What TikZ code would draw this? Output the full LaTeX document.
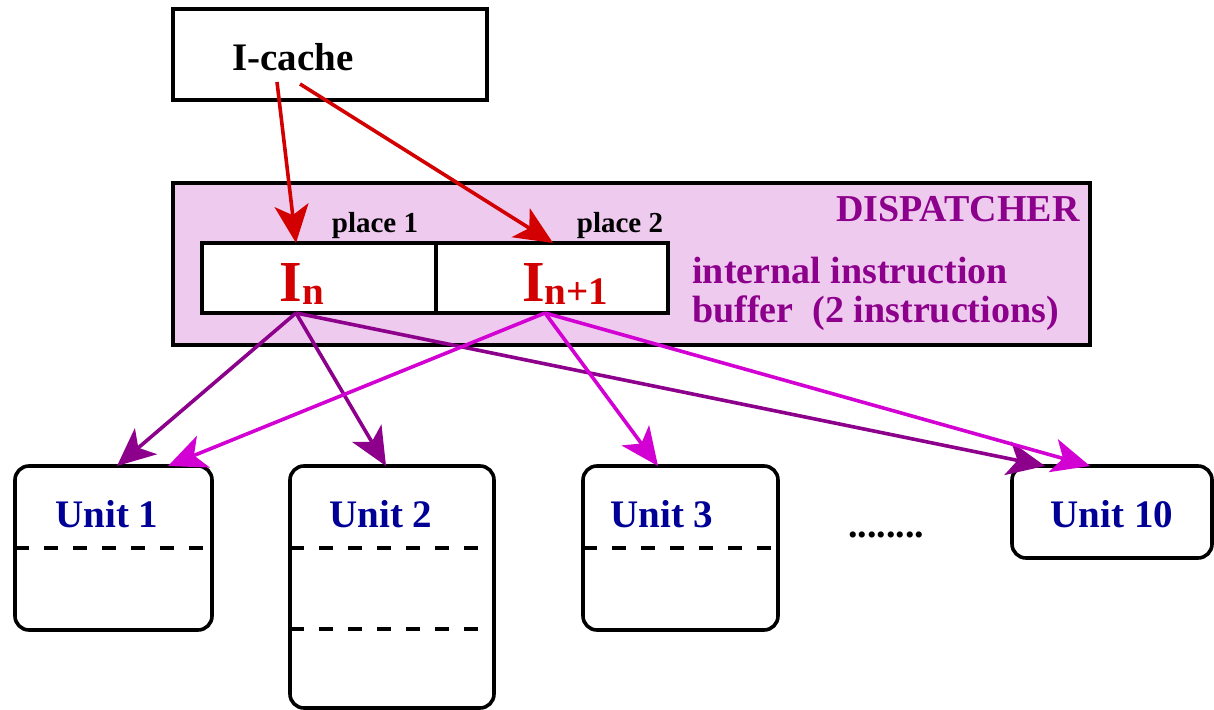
\documentclass[tikz,border=0pt]{standalone}
\usepackage{fontspec}
\setmainfont{Liberation Serif}[BoldFont={Liberation Serif Bold}]
\usetikzlibrary{arrows.meta,positioning}
\definecolor{colorFETCH}{RGB}{210,0,0}
\definecolor{colorIN}{RGB}{140,0,140}
\definecolor{colorINN}{RGB}{210,0,210}
\definecolor{colorDSP}{RGB}{238,202,238}
\definecolor{colorUNIT}{RGB}{0,0,150}
\tikzset{
   every path/.style={>={Stealth[length=19pt,width=17pt,inset=5pt]}},
   box/.style={draw,line width=1.8pt,inner sep=0pt,outer sep=0pt},
   unitbox/.style={box,rounded corners=7pt,fill=white},
   stage/.style={dash pattern=on 7pt off 7.5pt,line width=1.8pt},
   fetch/.style={->,color=colorFETCH,line width=1.8pt},
   issue/.style={->,color=colorIN,line width=1.8pt},
   issuenext/.style={->,color=colorINN,line width=1.8pt},
   unitlbl/.style={font=\rmfamily\bfseries\fontsize{19.5}{20}\selectfont,text=colorUNIT,inner sep=0pt},
   dsplbl/.style={font=\rmfamily\bfseries\fontsize{19}{20}\selectfont,text=colorIN,inner sep=0pt},
   placelbl/.style={font=\rmfamily\bfseries\fontsize{14.5}{15}\selectfont,inner sep=0pt},
   instr/.style={font=\rmfamily\bfseries\fontsize{29}{30}\selectfont,text=colorFETCH,inner sep=0pt},
}
\newcommand{\sub}[1]{{\fontsize{19.5}{20}\selectfont\raisebox{-1.5pt}{#1}}}

\begin{document}
\begin{tikzpicture}[x=0.5pt,y=-0.5pt]
        \useasboundingbox (0,0) rectangle (1214,710);

        % cache and dispatcher
        \node[box,minimum width=157pt,minimum height=45.5pt] (icache) at (330,54.5) {};
        \node[font=\rmfamily\bfseries\fontsize{19.5}{20}\selectfont,inner sep=0pt] (icachetxt) at (293,57) {I-cache};
        \node[box,fill=colorDSP,minimum width=458.5pt,minimum height=81pt] (disp) at (631.5,264) {};
        \node[dsplbl,anchor=east] (disptxt) at (1080,209) {DISPATCHER};

        % internal buffer
        \node[box,fill=white,minimum width=117pt,minimum height=35pt] (cella) at (319,278) {};
        \node[box,fill=white,minimum width=116pt,minimum height=35pt] (cellb) at (552,278) {};
        \node[placelbl,anchor=base] (placea) at (375,233) {place 1};
        \node[placelbl,anchor=base] (placeb) at (620,233) {place 2};
        \node[instr,anchor=base] (ina) at (302,302) {I\sub{n}};
        \node[instr,anchor=base] (inb) at (565,302) {I\sub{n+1}};
        \node[dsplbl,anchor=base west] (bufa) at (692,284) {internal instruction};
        \node[dsplbl,anchor=base west] (bufb) at (692,323) {buffer\ \ (2 instructions)};

        % units
        \node[unitbox,minimum width=98.5pt,minimum height=82pt] (u1) at (113.5,548) {};
        \node[unitbox,minimum width=102pt,minimum height=121pt] (u2) at (392,587) {};
        \node[unitbox,minimum width=97.5pt,minimum height=82pt] (u3) at (680.5,548) {};
        \node[unitbox,minimum width=100pt,minimum height=46pt] (u10) at (1112,512) {};
        \node[unitlbl] (u1txt) at (107,514) {Unit 1};
        \node[unitlbl] (u2txt) at (381,514) {Unit 2};
        \node[unitlbl] (u3txt) at (662,514) {Unit 3};
        \node[unitlbl] (u10txt) at (1112,514) {Unit 10};
        \node[font=\rmfamily\bfseries\fontsize{19}{20}\selectfont,anchor=base,inner sep=0pt] (dots) at (886,537) {........};

        \draw[stage] (u1.west |- 0,548) -- (u1.east |- 0,548);
        \draw[stage] (u2.west |- 0,548) -- (u2.east |- 0,548);
        \draw[stage] (u2.west |- 0,629) -- (u2.east |- 0,629);
        \draw[stage] (u3.west |- 0,548) -- (u3.east |- 0,548);

        % fetch
        \draw[fetch] ([shift={(-26.5pt,-13.75pt)}]icache.center) -- ([xshift=-11.5pt]cella.north);
        \draw[fetch] ([shift={(-15pt,-14.75pt)}]icache.center) -- ([xshift=0.5pt]cellb.north);

        % issue
        \draw[issue] ([xshift=-11.5pt]cella.south) -- ([xshift=1.75pt]u1.north);
        \draw[issue] ([xshift=-11.5pt]cella.south) -- ([xshift=-3pt]u2.north);
        \draw[issue] ([xshift=-11.5pt]cella.south) -- ([xshift=-33.5pt]u10.north);
        \draw[issuenext] ([xshift=-3.5pt]cellb.south) -- ([xshift=27.25pt]u1.north);
        \draw[issuenext] ([xshift=-3.5pt]cellb.south) -- ([xshift=-11.25pt]u3.north);
        \draw[issuenext] ([xshift=-3.5pt]cellb.south) -- ([xshift=-11pt]u10.north);
\end{tikzpicture}
\end{document}
